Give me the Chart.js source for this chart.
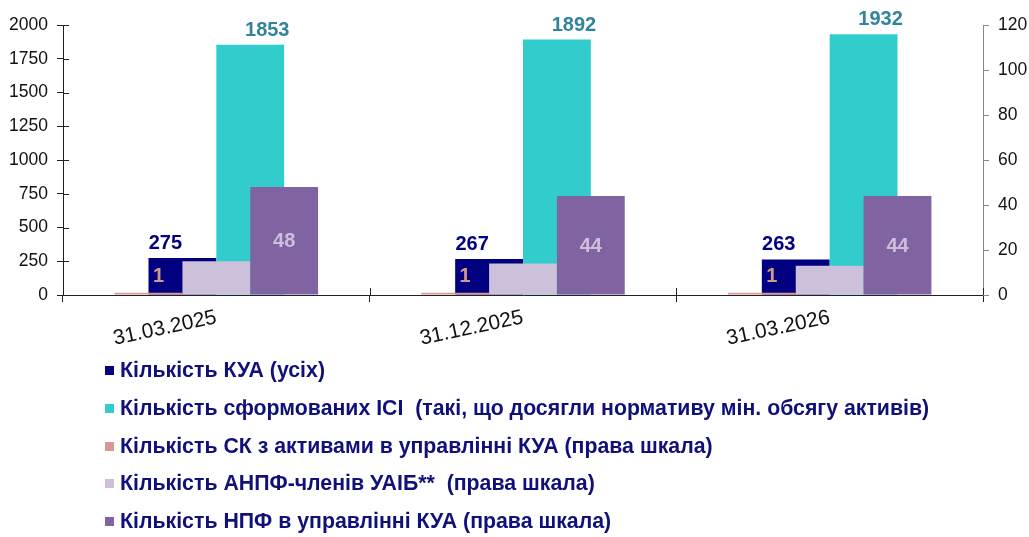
<!DOCTYPE html>
<html>
<head>
<meta charset="utf-8">
<script src="https://cdn.jsdelivr.net/npm/chart.js@4.4.1/dist/chart.umd.min.js"></script>
<style>
  body { margin: 0; background: #fff; }
  #wrap { position: relative; width: 1029px; height: 537px; }
  #legend { position: absolute; left: 105px; top: 352px; font: bold 21.3px "Liberation Sans", Arial, sans-serif; color: #10107a; }
  #legend div { height: 37.8px; line-height: 37.8px; white-space: pre; }
  #legend span { display: inline-block; width: 9px; height: 9px; margin-right: 6px; vertical-align: 2px; }
</style>
</head>
<body>
<div id="wrap">
  <canvas id="chart" width="1029" height="537"></canvas>
  <div id="legend"></div>
</div>
<script>
const categories = ["31.03.2025", "31.12.2025", "31.03.2026"];
const kuaAll = [275, 267, 263];
const isiFormed = [1853, 1892, 1932];
const skManaged = [1, 1, 1];
const anpfMembers = [15, 14, 13];
const npfManaged = [48, 44, 44];
const seriesNames = [
  "Кількість КУА (усіх)",
  "Кількість сформованих ІСІ  (такі, що досягли нормативу мін. обсягу активів)",
  "Кількість СК з активами в управлінні КУА (права шкала)",
  "Кількість АНПФ-членів УАІБ**  (права шкала)",
  "Кількість НПФ в управлінні КУА (права шкала)"
];
const colors = ["#000080", "#33cccc", "#d99694", "#ccc0da", "#8064a2"];

// bars are twice as wide as their slot, so neighbours overlap by half like in the Excel original;
// the right-scale series are painted over the left-scale ones
const drawOrder = [1, 3, 0, 2, 4];

const overlapDraw = {
  id: "overlapDraw",
  beforeDatasetsDraw(chart) {
    drawOrder.forEach(i => chart.getDatasetMeta(i).controller.draw());
    return false;
  },
  afterDraw(chart) {
    const ctx = chart.ctx;
    // value labels
    chart.data.datasets.forEach((ds, di) => {
      const lab = ds.valueLabel;
      if (!lab) return;
      chart.getDatasetMeta(di).data.forEach((bar, i) => {
        const p = bar.getProps(["x", "y", "base"], true);
        ctx.save();
        ctx.font = "bold 20px 'Liberation Sans', Arial, sans-serif";
        ctx.fillStyle = lab.color;
        ctx.textAlign = "center";
        let y;
        if (lab.pos === "top") { ctx.textBaseline = "alphabetic"; y = p.y - 9; }
        else if (lab.pos === "middle") { ctx.textBaseline = "middle"; y = (p.y + p.base) / 2 + 1; }
        else { ctx.textBaseline = "alphabetic"; y = p.base - 13; }
        ctx.fillText(String(ds.data[i]), p.x + lab.dx, y);
        ctx.restore();
      });
    });
    // inner half of the tick marks crossing the axes
    const { x, y } = chart.scales;
    ctx.save();
    ctx.strokeStyle = "#222";
    ctx.lineWidth = 1;
    ctx.beginPath();
    y.ticks.forEach((t, i) => {
      const py = Math.round(y.getPixelForTick(i)) + 0.5;
      ctx.moveTo(y.right, py);
      ctx.lineTo(y.right + 6, py);
    });
    for (let i = 0; i <= categories.length; i++) {
      const px = Math.round(x.left + (x.right - x.left) * i / categories.length) + 0.5;
      ctx.moveTo(px, x.top);
      ctx.lineTo(px, x.top - 7);
    }
    ctx.stroke();
    ctx.restore();
  }
};

const ctx = document.getElementById("chart").getContext("2d");
new Chart(ctx, {
  type: "bar",
  data: {
    labels: categories,
    datasets: [
      { label: seriesNames[2], data: skManaged, backgroundColor: colors[2], yAxisID: "y2",
        valueLabel: { color: "#d4998c", pos: "base", dx: 10 } },
      { label: seriesNames[0], data: kuaAll, backgroundColor: colors[0], yAxisID: "y",
        valueLabel: { color: "#000080", pos: "top", dx: -17 } },
      { label: seriesNames[3], data: anpfMembers, backgroundColor: colors[3], yAxisID: "y2" },
      { label: seriesNames[1], data: isiFormed, backgroundColor: colors[1], yAxisID: "y",
        valueLabel: { color: "#31849b", pos: "top", dx: 17 } },
      { label: seriesNames[4], data: npfManaged, backgroundColor: colors[4], yAxisID: "y2",
        valueLabel: { color: "#ccc0da", pos: "middle", dx: 0 } }
    ]
  },
  options: {
    responsive: false,
    animation: false,
    datasets: { bar: { categoryPercentage: 0.553, barPercentage: 2 } },
    layout: { padding: { top: 25, left: 0, right: 0, bottom: 0 } },
    plugins: { legend: { display: false }, tooltip: { enabled: false } },
    scales: {
      x: {
        position: "bottom",
        afterFit(s) { s.height = 242; },
        grid: { drawOnChartArea: false, offset: true, tickLength: 7, color: "#222" },
        border: { color: "#222" },
        ticks: { minRotation: 12, maxRotation: 12, color: "#111", padding: 3,
                 font: { family: "'Liberation Sans', Arial", size: 21 } }
      },
      y: {
        position: "left", min: 0, max: 2000,
        afterFit(s) { s.width = 63; },
        grid: { drawOnChartArea: false, tickLength: 6, color: "#222" },
        border: { color: "#222" },
        ticks: { stepSize: 250, color: "#111", padding: 9, callback: v => String(v),
                 font: { family: "'Liberation Sans', Arial", size: 17.5 } }
      },
      y2: {
        position: "right", min: 0, max: 120,
        afterFit(s) { s.width = 46; },
        grid: { drawOnChartArea: false, tickLength: 6, color: "#888" },
        border: { color: "#888" },
        ticks: { stepSize: 20, color: "#111", padding: 9, callback: v => String(v),
                 font: { family: "'Liberation Sans', Arial", size: 17.5 } }
      }
    }
  },
  plugins: [overlapDraw]
});

const legend = document.getElementById("legend");
seriesNames.forEach((name, i) => {
  const row = document.createElement("div");
  const box = document.createElement("span");
  box.style.background = colors[i];
  row.appendChild(box);
  row.appendChild(document.createTextNode(name));
  legend.appendChild(row);
});
</script>
</body>
</html>
